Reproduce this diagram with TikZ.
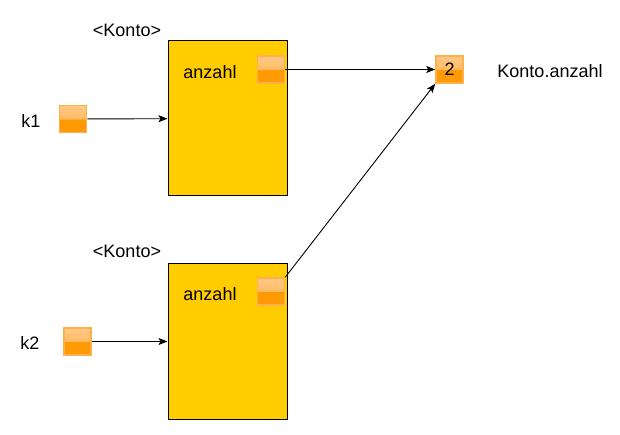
\documentclass[tikz,border=0pt]{standalone}
\usepackage{fontspec}
\setmainfont{Liberation Sans}
\usepackage{xcolor}
\usepackage{tikz}
\usetikzlibrary{arrows.meta}
\usetikzlibrary{calc}
\definecolor{kontogelb}{HTML}{FFCC00}
\definecolor{orRand}{HTML}{FFB04A}
\definecolor{orOben}{HTML}{FFD6A8}
\definecolor{orMitte}{HTML}{FFBC66}
\definecolor{orUnten}{HTML}{FF9900}
\definecolor{orTief}{HTML}{FF9D14}
\pgfdeclareverticalshading{glas}{100bp}{color(0bp)=(orTief); color(50bp)=(orUnten); color(51bp)=(orMitte); color(100bp)=(orOben)}
\tikzstyle{arrow} = [line width=0.9pt, ->, >={Stealth[length=9pt,width=7pt,inset=2pt]}]
\tikzstyle{konto} = [draw, fill=kontogelb, line width=1pt, minimum width=119pt, minimum height=155pt]
\tikzstyle{ref} = [draw=orRand, line width=1.6pt, shading=glas, minimum size=27pt, inner sep=0pt]
\tikzstyle{txt} = [font=\fontsize{18}{21}\selectfont]

\begin{document}
\begin{tikzpicture}[x=1pt, y=-1pt]
	\useasboundingbox (0,0) rectangle (620,435);
	
	% Objekte
	\node (obj1) [konto] at (227.5,118.5) {};
	\node (obj2) [konto] at (227.5,341.5) {};
	\node (typ1) [txt] at (127,30) {<Konto>};
	\node (typ2) [txt] at (127,251) {<Konto>};
	
	% Attribute
	\node (name1) [txt] at (210,72) {anzahl};
	\node (name2) [txt] at (210,294) {anzahl};
	\node (feld1) [ref] at (271,69.5) {};
	\node (feld2) [ref] at (271,291.5) {};
	
	% Variablen
	\node (k1) [ref] at (73,119) {};
	\node (k2) [ref] at (77.5,341.5) {};
	\node (k1label) [txt] at (31,121) {k1};
	\node (k2label) [txt] at (30,343) {k2};
	
	% Klassenvariable
	\node (wert) [ref, txt] at (449.5,69.5) {2};
	\node (wertlabel) [txt] at (550,71) {Konto.anzahl};
	
	\draw [arrow] (k1) -- (obj1);
	\draw [arrow] (k2) -- (obj2);
	\draw [arrow] (feld1) -- (wert);
	\draw [arrow] (feld2.north east) -- (wert.south west);
\end{tikzpicture}
\end{document}
